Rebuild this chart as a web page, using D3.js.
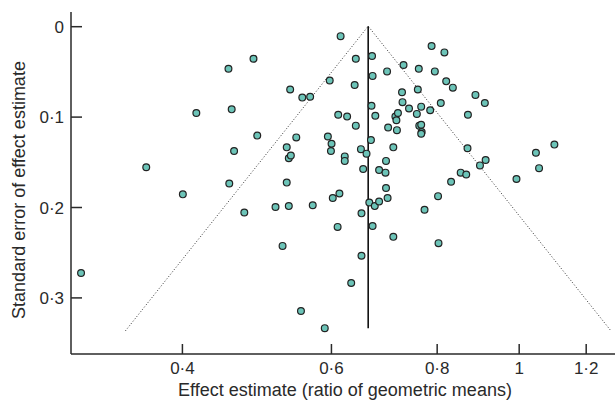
<!DOCTYPE html>
<html>
<head>
<meta charset="utf-8">
<script src="https://cdn.jsdelivr.net/npm/d3@7"></script>
<style>
  body { margin: 0; background: #fff; }
  svg { display: block; font-family: "Liberation Sans", Arial, sans-serif; }
</style>
</head>
<body>
<svg id="chart"></svg>
<script>
// study effect estimates (ratio of geometric means)
const ratios = [
  0.304, 0.363, 0.401, 0.416, 0.454, 0.455, 0.458, 0.461, 0.474, 0.486,
  0.491, 0.516, 0.526, 0.532, 0.532, 0.535, 0.535, 0.537, 0.538, 0.546,
  0.553, 0.555, 0.567, 0.571, 0.590, 0.595, 0.598, 0.600, 0.601, 0.603,
  0.611, 0.612, 0.614, 0.616, 0.623, 0.623, 0.627, 0.634, 0.640, 0.642,
  0.642, 0.651, 0.652, 0.652, 0.655, 0.661, 0.666, 0.669, 0.670, 0.671,
  0.672, 0.672, 0.676, 0.677, 0.684, 0.684, 0.696, 0.697, 0.697, 0.699,
  0.700, 0.701, 0.711, 0.711, 0.715, 0.717, 0.718, 0.720, 0.728, 0.729,
  0.731, 0.742, 0.758, 0.760, 0.762, 0.763, 0.767, 0.768, 0.767, 0.767,
  0.774, 0.786, 0.789, 0.796, 0.803, 0.804, 0.809, 0.817, 0.821, 0.832,
  0.836, 0.854, 0.867, 0.870, 0.871, 0.889, 0.900, 0.912, 0.914, 0.994,
  1.048, 1.057, 1.102
];
// standard error of each estimate
const stdErrors = [
  0.273, 0.156, 0.186, 0.096, 0.047, 0.174, 0.092, 0.138, 0.206, 0.036,
  0.121, 0.200, 0.243, 0.134, 0.173, 0.146, 0.199, 0.070, 0.143, 0.123,
  0.315, 0.079, 0.078, 0.198, 0.334, 0.122, 0.060, 0.138, 0.130, 0.190,
  0.222, 0.098, 0.185, 0.011, 0.144, 0.149, 0.100, 0.284, 0.065, 0.036,
  0.110, 0.136, 0.207, 0.254, 0.158, 0.141, 0.195, 0.126, 0.088, 0.033,
  0.055, 0.221, 0.199, 0.099, 0.194, 0.159, 0.162, 0.149, 0.179, 0.050,
  0.190, 0.112, 0.134, 0.233, 0.100, 0.104, 0.115, 0.096, 0.073, 0.084,
  0.043, 0.091, 0.097, 0.070, 0.047, 0.110, 0.109, 0.117, 0.119, 0.089,
  0.203, 0.093, 0.022, 0.050, 0.188, 0.240, 0.085, 0.029, 0.061, 0.172,
  0.068, 0.162, 0.164, 0.135, 0.098, 0.076, 0.154, 0.085, 0.148, 0.169,
  0.140, 0.157, 0.131
];
const pooled = 0.664;
const seMax = 0.337;

const xTicks = [0.4, 0.6, 0.8, 1, 1.2];
const yTicks = [0, 0.1, 0.2, 0.3];
const fmt = v => String(v).replace('.', '\u00b7');

const width = 615, height = 404;
const plotLeft = 71, plotRight = 615, plotTop = 12, plotBottom = 354;

const svg = d3.select('#chart')
  .attr('width', width)
  .attr('height', height);

const x = d3.scaleLog()
  .domain([0.2958, 1.2996])
  .range([plotLeft, plotRight]);

const y = d3.scaleLinear()
  .domain([-0.0157, 0.3626])
  .range([plotTop, plotBottom]);

const ink = '#2a2a2a';

// funnel (95% limits)
const lo = Math.log(pooled);
svg.append('path')
  .attr('d', d3.line()([
    [x(Math.exp(lo - 1.96 * seMax)), y(seMax)],
    [x(pooled), y(0)],
    [x(Math.exp(lo + 1.96 * seMax)), y(seMax)]
  ]))
  .attr('fill', 'none')
  .attr('stroke', '#333')
  .attr('stroke-width', 1)
  .attr('stroke-dasharray', '1,2');

// pooled estimate
svg.append('line')
  .attr('x1', x(pooled)).attr('x2', x(pooled))
  .attr('y1', y(0)).attr('y2', y(0.334))
  .attr('stroke', '#111')
  .attr('stroke-width', 1.6);

// axes, ticks drawn inward
const xAxis = svg.append('g')
  .attr('transform', `translate(0,${plotBottom})`)
  .call(d3.axisTop(x).tickValues(xTicks).tickFormat(fmt).tickSize(10).tickPadding(0));
xAxis.select('.domain').attr('d', `M${plotLeft},0H${plotRight}`);
xAxis.selectAll('text')
  .attr('y', 20)
  .attr('dy', 0)
  .attr('font-size', 17);

const yAxis = svg.append('g')
  .attr('transform', `translate(${plotLeft},0)`)
  .call(d3.axisRight(y).tickValues(yTicks).tickFormat(fmt).tickSize(11).tickPadding(0));
yAxis.select('.domain').attr('d', `M0,${plotTop}V${plotBottom}`);
yAxis.selectAll('text')
  .attr('x', -7)
  .attr('dy', '0.36em')
  .attr('text-anchor', 'end')
  .attr('font-size', 17);

svg.selectAll('.domain, .tick line')
  .attr('stroke', ink)
  .attr('stroke-width', 1.5);
svg.selectAll('.tick text').attr('fill', ink);

// studies
svg.append('g')
  .selectAll('circle')
  .data(ratios.map((r, i) => [r, stdErrors[i]]))
  .join('circle')
  .attr('cx', d => x(d[0]))
  .attr('cy', d => y(d[1]))
  .attr('r', 3.4)
  .attr('fill', '#6cc4b8')
  .attr('stroke', '#222')
  .attr('stroke-width', 1.2);

// axis titles
svg.append('text')
  .attr('x', (173 + 517) / 2)
  .attr('y', 396)
  .attr('text-anchor', 'middle')
  .attr('font-size', 18)
  .attr('fill', ink)
  .text('Effect estimate (ratio of geometric means)');

svg.append('text')
  .attr('transform', 'translate(25,190) rotate(-90)')
  .attr('text-anchor', 'middle')
  .attr('font-size', 18)
  .attr('fill', ink)
  .text('Standard error of effect estimate');
</script>
</body>
</html>
